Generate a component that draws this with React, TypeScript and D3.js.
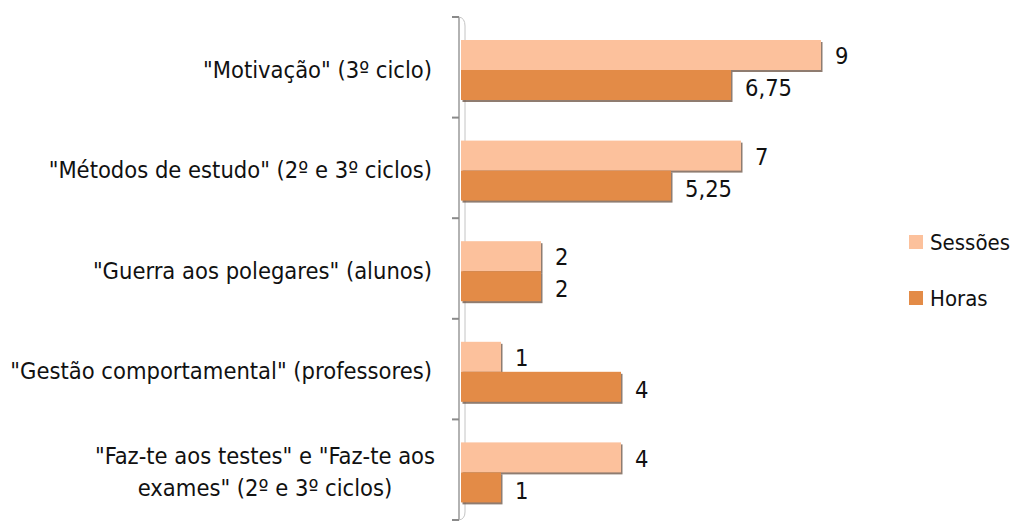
import React, { useEffect, useRef } from 'react';
import { select, scaleLinear, scaleBand } from 'd3';

const categories = [
  '"Motivação" (3º ciclo)',
  '"Métodos de estudo" (2º e 3º ciclos)',
  '"Guerra aos polegares" (alunos)',
  '"Gestão comportamental" (professores)',
  '"Faz-te aos testes" e "Faz-te aos|exames" (2º e 3º ciclos)',
];
const sessoes = [9, 7, 2, 1, 4];
const horas = [6.75, 5.25, 2, 4, 1];
const seriesNames = ['Sessões', 'Horas'];
const valueLabels = (v: number) => String(v).replace('.', ',');

const W = 1016;
const H = 522;
const FONT = "'DejaVu Sans Condensed', 'Liberation Sans Narrow', sans-serif";

export default function App() {
  const svgRef = useRef<SVGSVGElement>(null);

  useEffect(() => {
    if (!svgRef.current) return;
    const svg = select(svgRef.current);
    svg.selectAll('*').remove();

    const colors = { ses: '#FCC19C', hor: '#E38B47', shadow: '#6a5040', axis: '#9a9a9a' };

    const x0 = 461;
    const x = scaleLinear().domain([0, 9]).range([x0, x0 + 360]);
    const y = scaleBand<number>().domain(categories.map((_, i) => i)).range([17, 520]);
    const bh = 30;
    const off = 23;

    svg.append('rect').attr('width', W).attr('height', H).attr('fill', '#fff');

    // axis (double line look)
    svg.append('line').attr('x1', 459).attr('x2', 459).attr('y1', 17).attr('y2', 520)
      .attr('stroke', colors.axis).attr('stroke-width', 1.5);
    svg.append('path').attr('d', 'M459,17 Q465,18 465,26 L465,512 Q465,519 459,520')
      .attr('fill', 'none').attr('stroke', '#c4c4c4').attr('stroke-width', 1);
    const ticks = categories.map((_, i) => y(i)!).concat([520]);
    svg.selectAll('.tick').data(ticks).enter().append('line')
      .attr('x1', 452).attr('x2', 459).attr('y1', d => d).attr('y2', d => d)
      .attr('stroke', '#8a8a8a').attr('stroke-width', 2);

    const g = svg.append('g');
    categories.forEach((c, i) => {
      const top = y(i)! + off;
      // shadows
      g.append('rect').attr('x', x0 + 1.5).attr('y', top + 2).attr('width', x(sessoes[i]) - x0)
        .attr('height', bh).attr('fill', colors.shadow).attr('opacity', 0.75);
      g.append('rect').attr('x', x0 + 1.5).attr('y', top + bh + 2).attr('width', x(horas[i]) - x0)
        .attr('height', bh).attr('fill', colors.shadow).attr('opacity', 0.75);
      g.append('rect').attr('x', x0).attr('y', top).attr('width', x(sessoes[i]) - x0)
        .attr('height', bh).attr('fill', colors.ses);
      g.append('rect').attr('x', x0).attr('y', top + bh).attr('width', x(horas[i]) - x0)
        .attr('height', bh).attr('fill', colors.hor);

      g.append('text').attr('x', x(sessoes[i]) + 14).attr('y', top + bh / 2 + 1)
        .attr('dy', '0.35em').attr('font-family', FONT).attr('font-size', 23.5).attr('fill', '#111')
        .text(valueLabels(sessoes[i]));
      g.append('text').attr('x', x(horas[i]) + 14).attr('y', top + bh + bh / 2 + 3)
        .attr('dy', '0.35em').attr('font-family', FONT).attr('font-size', 23.5).attr('fill', '#111')
        .text(valueLabels(horas[i]));

      const lines = c.split('|');
      const cy = y(i)! + y.bandwidth() / 2 + 2;
      lines.forEach((ln, j) => {
        g.append('text').attr('x', lines.length > 1 ? 265 : 432)
          .attr('text-anchor', lines.length > 1 ? 'middle' : 'end')
          .attr('y', cy + (j - (lines.length - 1) / 2) * 32).attr('dy', '0.35em')
          .attr('font-family', FONT).attr('font-size', 23.5).attr('fill', '#111').text(ln);
      });
    });

    // legend
    const legColors = [colors.ses, colors.hor];
    seriesNames.forEach((s, i) => {
      const ly = 242 + i * 56;
      svg.append('rect').attr('x', 909).attr('y', ly - 7).attr('width', 14).attr('height', 14)
        .attr('fill', legColors[i]);
      svg.append('text').attr('x', 930).attr('y', ly).attr('dy', '0.35em')
        .attr('font-family', FONT).attr('font-size', 22).attr('fill', '#111').text(s);
    });
  }, []);

  return (
    <svg ref={svgRef} width={W} height={H} viewBox={`0 0 ${W} ${H}`}
      style={{ position: 'absolute', left: 0, top: 0 }} />
  );
}
